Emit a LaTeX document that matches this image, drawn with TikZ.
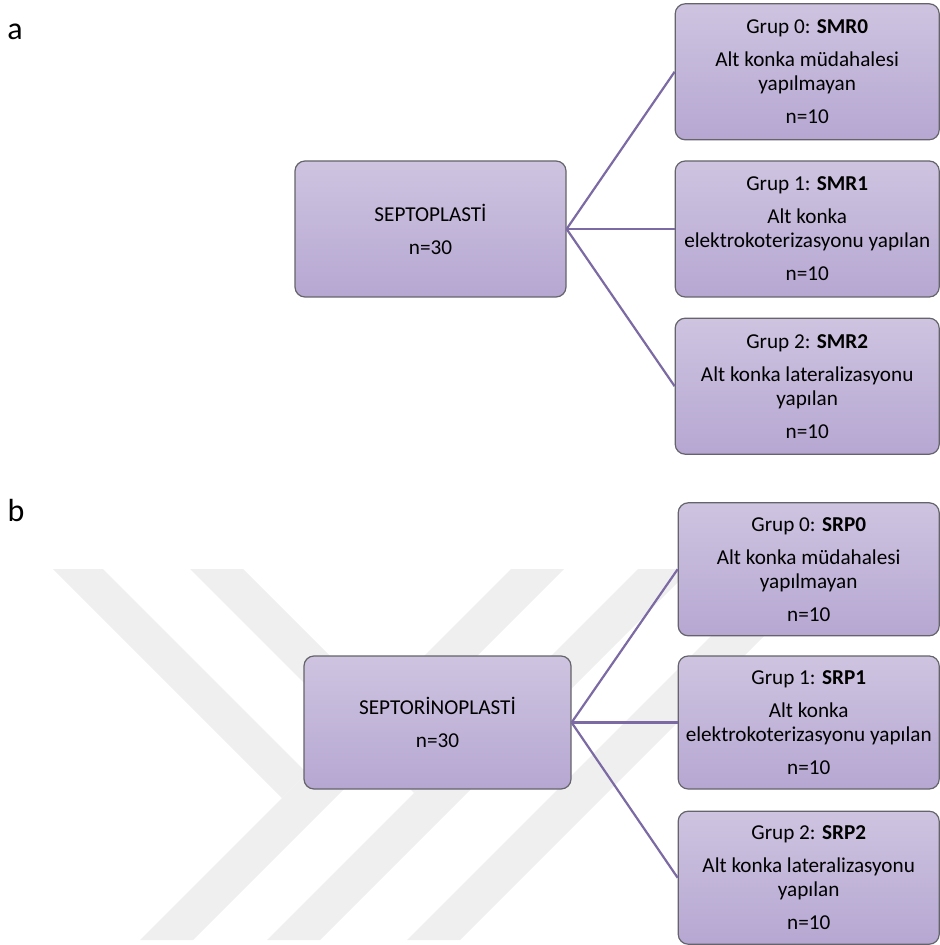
\documentclass[tikz,border=0pt]{standalone}
\usepackage{fontspec}
\setmainfont{Carlito}
\usepackage{tikz}
\usetikzlibrary{positioning}

\definecolor{kutuust}{RGB}{206,196,224}
\definecolor{kutualt}{RGB}{182,167,210}
\definecolor{kenar}{RGB}{100,100,106}
\definecolor{cizgi}{RGB}{123,106,163}
\definecolor{filigran}{RGB}{239,239,239}

\tikzset{
    kutu/.style={draw=kenar, line width=0.6pt, rounded corners=5pt, top color=kutuust, bottom color=kutualt,
        align=center, font=\fontsize{10.6}{12}\selectfont},
    ana/.style={kutu, minimum width=135.5pt, minimum height=68pt},
    grup/.style={kutu, minimum width=132pt, minimum height=68pt},
    baglanti/.style={draw=cizgi, line width=1.1pt},
    etiket/.style={font=\fontsize{16}{19}\selectfont}
}

\begin{document}
\begin{tikzpicture}
    \useasboundingbox (0,0) rectangle (469.5pt,-472.5pt);
    \begin{scope}[x=0.5pt, y=-0.5pt]
        \fill[filigran] (53,569) -- (103,569) -- (307,773) -- (282,798) -- cycle;
        \fill[filigran] (511,569) -- (564,569) -- (193,940) -- (140,940) -- cycle;
        \fill[filigran] (190,569) -- (243,569) -- (440.5,766.5) -- (414,793) -- cycle;
        \fill[filigran] (638,569) -- (691,569) -- (320,940) -- (267,940) -- cycle;
        \fill[filigran] (778,569) -- (831,569) -- (460,940) -- (407,940) -- cycle;
    \end{scope}

    \node (a) [etiket] at (7.5pt,-16pt) {a};
    \node (septo) [ana] at (215.25pt,-114.5pt) {SEPTOPLASTİ\\[4.5pt]n=30};
    \node (smr1) [grup, right=54pt of septo] {Grup 1: \textbf{SMR1}\\[4.5pt]Alt konka\\elektrokoterizasyonu yapılan\\[4.5pt]n=10};
    \node (smr0) [grup, above=10pt of smr1] {Grup 0: \textbf{SMR0}\\[4.5pt]Alt konka müdahalesi\\yapılmayan\\[4.5pt]n=10};
    \node (smr2) [grup, below=10pt of smr1] {Grup 2: \textbf{SMR2}\\[4.5pt]Alt konka lateralizasyonu\\yapılan\\[4.5pt]n=10};
    \draw[baglanti] (septo.east) -- (smr0.west);
    \draw[baglanti] (septo.east) -- (smr1.west);
    \draw[baglanti] (septo.east) -- (smr2.west);

    \node (b) [etiket] at (8pt,-255pt) {b};
    \node (septori) [ana, minimum width=133.5pt, minimum height=66.5pt] at (218.75pt,-361.25pt) {SEPTORİNOPLASTİ\\[4.5pt]n=30};
    \begin{scope}[grup/.append style={minimum width=130.5pt, minimum height=66.5pt}]
        \node (srp1) [grup, right=53pt of septori] {Grup 1: \textbf{SRP1}\\[4.5pt]Alt konka\\elektrokoterizasyonu yapılan\\[4.5pt]n=10};
        \node (srp0) [grup, above=9.5pt of srp1] {Grup 0: \textbf{SRP0}\\[4.5pt]Alt konka müdahalesi\\yapılmayan\\[4.5pt]n=10};
        \node (srp2) [grup, below=10.5pt of srp1] {Grup 2: \textbf{SRP2}\\[4.5pt]Alt konka lateralizasyonu\\yapılan\\[4.5pt]n=10};
    \end{scope}
    \draw[baglanti] (septori.east) -- (srp0.west);
    \draw[baglanti] (septori.east) -- (srp1.west);
    \draw[baglanti] (septori.east) -- (srp2.west);
\end{tikzpicture}
\end{document}
